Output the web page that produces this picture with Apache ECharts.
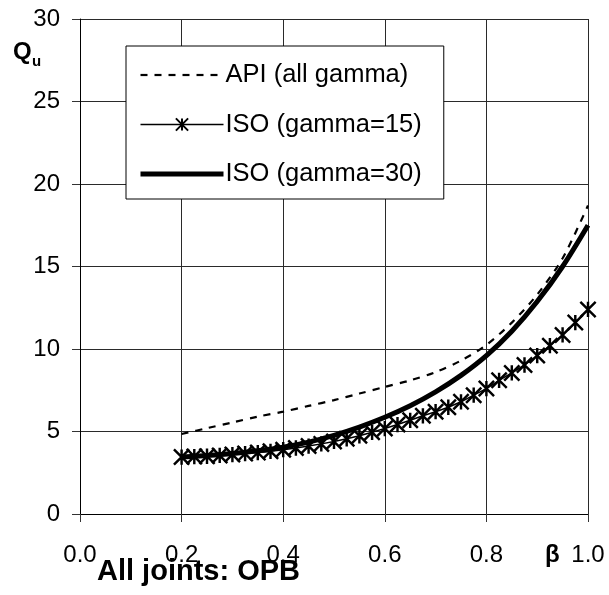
<!DOCTYPE html>
<html>
<head>
<meta charset="utf-8">
<script src="https://cdn.jsdelivr.net/npm/echarts@6/dist/echarts.min.js"></script>
<style>html,body{margin:0;padding:0;background:#fff}#c{width:609px;height:595px}</style>
</head>
<body>
<div id="c"></div>
<script>
// ---- data ----
var xTicks = ['0.0','0.2','0.4','0.6','0.8','1.0'];
var yTicks = ['0','5','10','15','20','25','30'];
var seriesNames = ['API (all gamma)', 'ISO (gamma=15)', 'ISO (gamma=30)'];

var betaAPI = [0.2,0.25,0.3,0.35,0.4,0.45,0.5,0.55,0.6,0.65,0.7,0.75,0.8,0.85,0.9,0.95,1.0];
var qAPI    = [4.85,5.2,5.55,5.9,6.2,6.55,6.9,7.3,7.7,8.1,8.6,9.3,10.25,11.6,13.3,15.5,18.7];

var betaISO15 = [0.2,0.225,0.25,0.275,0.3,0.325,0.35,0.375,0.4,0.425,0.45,0.475,0.5,0.525,0.55,0.575,0.6,0.625,0.65,0.675,0.7,0.725,0.75,0.775,0.8,0.825,0.85,0.875,0.9,0.925,0.95,0.975,1.0];
var qISO15    = [3.45,3.48,3.5,3.55,3.6,3.66,3.72,3.8,3.9,4.0,4.12,4.25,4.4,4.56,4.74,4.95,5.18,5.42,5.68,5.95,6.2,6.47,6.8,7.2,7.6,8.1,8.55,9.03,9.6,10.2,10.85,11.6,12.4];

var betaISO30 = [0.2,0.25,0.3,0.35,0.4,0.45,0.5,0.55,0.6,0.65,0.7,0.75,0.8,0.85,0.9,0.95,1.0];
var qISO30    = [3.45,3.54,3.66,3.83,4.05,4.36,4.77,5.27,5.86,6.56,7.4,8.4,9.6,11.08,12.88,15.0,17.5];

function pairs(xs, ys){ return xs.map(function(x,i){ return [x, ys[i]]; }); }

var FONT = 'Liberation Sans, Arial, sans-serif';
var starPath = 'path://M8.4 0L11.6 0L11.6 20L8.4 20Z' +
  'M1.13 -1.13L21.13 18.87L18.87 21.13L-1.13 1.13Z' +
  'M21.13 1.13L1.13 21.13L-1.13 18.87L18.87 -1.13Z';

var chart = echarts.init(document.getElementById('c'), null, {renderer:'canvas'});
chart.setOption({
  backgroundColor: '#fff',
  animation: false,
  grid: {left: 80, right: 21, top: 19, bottom: 81, containLabel: false},
  legend: {
    orient: 'vertical',
    left: 126, top: 46,
    padding: [16, 22, 12, 12],
    itemWidth: 83, itemHeight: 17, itemGap: 23.5,
    backgroundColor: '#fff',
    borderColor: '#000', borderWidth: 1, borderRadius: 0,
    textStyle: {fontFamily: FONT, fontSize: 25.5, color: '#000', padding: [0,0,0,-3]},
    data: [
      {name: seriesNames[0], itemStyle: {opacity: 0}, lineStyle: {width: 2.2, type: [7, 7], color: '#000'}},
      {name: seriesNames[1], itemStyle: {color: '#000'}, lineStyle: {width: 1.5, color: '#000'}},
      {name: seriesNames[2], itemStyle: {opacity: 0}, lineStyle: {width: 5, color: '#000'}}
    ]
  },
  xAxis: {
    type: 'value', min: 0, max: 1, interval: 0.2,
    axisLine: {show: true, lineStyle: {color: '#000', width: 1}},
    axisTick: {show: true, inside: false, length: 8, lineStyle: {color: '#333'}},
    axisLabel: {
      margin: 29, fontFamily: FONT, fontSize: 24, color: '#000',
      formatter: function(v){ var i = Math.round(v/0.2); return xTicks[i]; }
    },
    splitLine: {show: true, lineStyle: {color: '#2a2a2a', width: 1}}
  },
  yAxis: {
    type: 'value', min: 0, max: 30, interval: 5,
    axisLine: {show: true, lineStyle: {color: '#000', width: 1}},
    axisTick: {show: true, inside: false, length: 8, lineStyle: {color: '#333'}},
    axisLabel: {
      margin: 20, fontFamily: FONT, fontSize: 24, color: '#000',
      formatter: function(v){ return yTicks[Math.round(v/5)]; }
    },
    splitLine: {show: true, lineStyle: {color: '#2a2a2a', width: 1}}
  },
  series: [
    {
      name: seriesNames[0], type: 'line', smooth: 0.3,
      data: pairs(betaAPI, qAPI),
      symbol: 'none',
      lineStyle: {color: '#000', width: 2.2, type: [7, 7]},
      itemStyle: {color: '#000'}, z: 3
    },
    {
      name: seriesNames[1], type: 'line', smooth: false,
      data: pairs(betaISO15, qISO15),
      symbol: starPath, symbolSize: 17,
      lineStyle: {color: '#000', width: 1.5},
      itemStyle: {color: '#000', borderWidth: 0}, z: 4
    },
    {
      name: seriesNames[2], type: 'line', smooth: 0.3,
      data: pairs(betaISO30, qISO30),
      symbol: 'none',
      lineStyle: {color: '#000', width: 5},
      itemStyle: {color: '#000'}, z: 5
    }
  ],
  graphic: [
    {type: 'text', left: 13, top: 40, style: {text: 'Q', fontFamily: FONT, fontSize: 24, fontWeight: 'bold', fill: '#000'}},
    {type: 'text', left: 32, top: 54, style: {text: 'u', fontFamily: FONT, fontSize: 15, fontWeight: 'bold', fill: '#000'}},
    {type: 'text', left: 545, top: 543, style: {text: 'β', fontFamily: FONT, fontSize: 24, fontWeight: 'bold', fill: '#000'}},
    {type: 'text', left: 97, top: 557, style: {text: 'All joints: OPB', fontFamily: FONT, fontSize: 29, fontWeight: 'bold', fill: '#000'}}
  ]
});
</script>
</body>
</html>
